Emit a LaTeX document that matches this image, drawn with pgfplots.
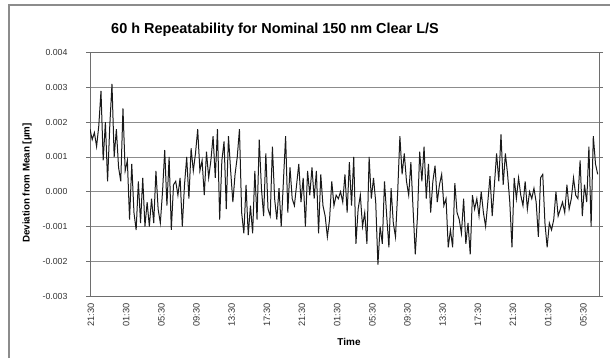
\documentclass[border=0pt]{standalone}
\usepackage{fontspec}
\setmainfont{Liberation Sans}
\usepackage{pgfplots}
\pgfplotsset{compat=1.18}
\definecolor{gridgray}{RGB}{140,140,140}
\definecolor{boxgray}{RGB}{110,110,110}
\begin{document}
\begin{tikzpicture}[x=1bp,y=1bp]
\path[use as bounding box] (0,0) rectangle (610,358);
\draw[gridgray, line width=2bp] (9,0) -- (9,353) -- (612,353);
\begin{axis}[
  at={(90bp,62bp)}, anchor=south west,
  scale only axis, width=509bp, height=243.3bp,
  xmin=0, xmax=57.9, ymin=-0.003, ymax=0.004,
  ytick={-0.003,-0.002,-0.001,0,0.001,0.002,0.003,0.004},
  scaled y ticks=false,
  yticklabel style={/pgf/number format/fixed,/pgf/number format/zerofill,/pgf/number format/precision=3,/pgf/number format/assume math mode=true,font=\fontsize{8.8}{10}\selectfont, xshift=-15bp, text=black!80},
  xtick={0,4,8,12,16,20,24,28,32,36,40,44,48,52,56},
  xticklabels={21:30,01:30,05:30,09:30,13:30,17:30,21:30,01:30,05:30,09:30,13:30,17:30,21:30,01:30,05:30},
  xticklabel style={rotate=90, anchor=east, font=\fontsize{9.3}{10}\selectfont, yshift=-1bp, text=black!80},
  xtick style={draw=none},
  ytick style={boxgray, line width=0.6bp},
  tick align=outside, major tick length=4bp,
  ymajorgrids, grid style={gridgray, line width=0.8bp},
  axis line style={boxgray, line width=0.9bp},
  clip=true,
]
\addplot[black!90, line width=1bp, mark=none] table {
0.00 0.0018
0.25 0.0015
0.50 0.0017
0.75 0.0013
1.00 0.0019
1.25 0.0029
1.50 0.0009
1.75 0.0020
2.00 0.0003
2.25 0.0019
2.50 0.0031
2.75 0.0010
3.00 0.0018
3.25 0.0007
3.50 0.0003
3.75 0.0024
4.00 0.0006
4.25 0.0009
4.50 -0.0008
4.75 0.0008
5.00 -0.0006
5.25 -0.0011
5.50 0.0003
5.75 -0.0009
6.00 0.0004
6.25 -0.0010
6.50 -0.0003
6.75 -0.0010
7.00 -0.0002
7.25 -0.0009
7.50 0.0006
7.75 -0.0005
8.00 -0.0009
8.25 0.0000
8.50 0.0012
8.75 -0.0004
9.00 0.0010
9.25 -0.0011
9.50 0.0002
9.75 0.0003
10.00 -0.0001
10.25 0.0004
10.50 -0.0010
10.75 0.0002
11.00 0.0010
11.25 -0.0002
11.50 0.00125
11.75 0.0006
12.00 0.0011
12.25 0.0018
12.50 0.0006
12.75 0.0009
13.00 -0.0001
13.25 0.00115
13.50 0.0004
13.75 0.0009
14.00 0.0016
14.25 0.0004
14.50 0.0018
14.75 -0.0008
15.00 0.0009
15.25 0.00145
15.50 -0.0005
15.75 0.0016
16.00 0.0006
16.25 -0.0003
16.50 0.0005
16.75 0.0010
17.00 0.0018
17.25 -0.0006
17.50 -0.0012
17.75 0.0002
18.00 -0.00125
18.25 -0.0004
18.50 -0.0012
18.75 0.0006
19.00 -0.0008
19.25 0.0015
19.50 0.0001
19.75 -0.0007
20.00 0.0011
20.25 -0.0005
20.50 -0.0007
20.75 0.0013
21.00 -0.0002
21.25 -0.0008
21.50 0.0001
21.75 -0.0010
22.00 0.0003
22.25 0.0016
22.50 -0.0006
22.75 0.0007
23.00 -0.0002
23.25 -0.0004
23.50 0.0002
23.75 0.0008
24.00 -0.0003
24.25 0.0004
24.50 -0.0010
24.75 0.0006
25.00 -0.0001
25.25 0.0007
25.50 -0.0002
25.75 0.0006
26.00 -0.0012
26.25 0.0005
26.50 -0.0004
26.75 -0.0007
27.00 -0.0013
27.25 -0.0008
27.50 0.0003
27.75 -0.0004
28.00 -0.0001
28.25 -0.0002
28.50 0.0000
28.75 -0.0003
29.00 0.0005
29.25 -0.0006
29.50 0.00085
29.75 -0.0004
30.00 0.0010
30.25 -0.0015
30.50 -0.0005
30.75 -0.0001
31.00 -0.0010
31.25 -0.0006
31.50 -0.0015
31.75 0.0010
32.00 -0.0002
32.25 0.0004
32.50 -0.0003
32.75 -0.0021
33.00 -0.0010
33.25 -0.0015
33.50 0.0003
33.75 -0.0007
34.00 -0.0016
34.25 0.0001
34.50 -0.0009
34.75 -0.0013
35.00 0.0000
35.25 0.0016
35.50 0.0005
35.75 0.0011
36.00 0.0003
36.25 -0.0001
36.50 0.00085
36.75 -0.0005
37.00 -0.0018
37.25 -0.0007
37.50 0.00115
37.75 0.0003
38.00 0.0013
38.25 -0.0002
38.50 0.0008
38.75 -0.0006
39.00 0.0003
39.25 0.00075
39.50 -0.0003
39.75 0.0002
40.00 0.0005
40.25 -0.0004
40.50 -0.0002
40.75 -0.0016
41.00 -0.0011
41.25 -0.0016
41.50 0.00025
41.75 -0.0006
42.00 -0.0008
42.25 -0.0012
42.50 -0.0002
42.75 -0.0015
43.00 -0.0009
43.25 -0.0018
43.50 -0.0001
43.75 -0.0005
44.00 -0.0002
44.25 -0.0007
44.50 0.0000
44.75 -0.0006
45.00 -0.0010
45.25 -0.0003
45.50 0.00045
45.75 -0.0007
46.00 0.0002
46.25 0.0011
46.50 0.0003
46.75 0.00165
47.00 0.0002
47.25 0.0011
47.50 0.0005
47.75 -0.0003
48.00 -0.0016
48.25 0.0004
48.50 -0.0002
48.75 0.0004
49.00 -0.0001
49.25 -0.0004
49.50 0.0003
49.75 -0.0005
50.00 0.0000
50.25 -0.0002
50.50 0.0001
50.75 -0.0003
51.00 -0.0013
51.25 0.0004
51.50 0.0005
51.75 -0.0009
52.00 -0.0016
52.25 -0.0009
52.50 -0.0011
52.75 -0.0008
53.00 0.0000
53.25 -0.0007
53.50 -0.0005
53.75 -0.0003
54.00 -0.0006
54.25 0.0002
54.50 -0.0005
54.75 -0.0002
55.00 0.0004
55.25 -0.0001
55.50 -0.0002
55.75 0.0009
56.00 -0.0007
56.25 0.0002
56.50 -0.0003
56.75 0.0013
57.00 -0.0010
57.25 0.0016
57.50 0.0008
57.75 0.0005
};
\end{axis}
\node[font=\fontsize{14.5}{16}\selectfont\bfseries] at (275,328) {60 h Repeatability for Nominal 150 nm Clear L/S};
\node[font=\fontsize{9.8}{11}\selectfont\bfseries, rotate=90] at (27,175) {Deviation from Mean [µm]};
\node[font=\fontsize{10}{12}\selectfont\bfseries] at (349,16) {Time};
\end{tikzpicture}
\end{document}
